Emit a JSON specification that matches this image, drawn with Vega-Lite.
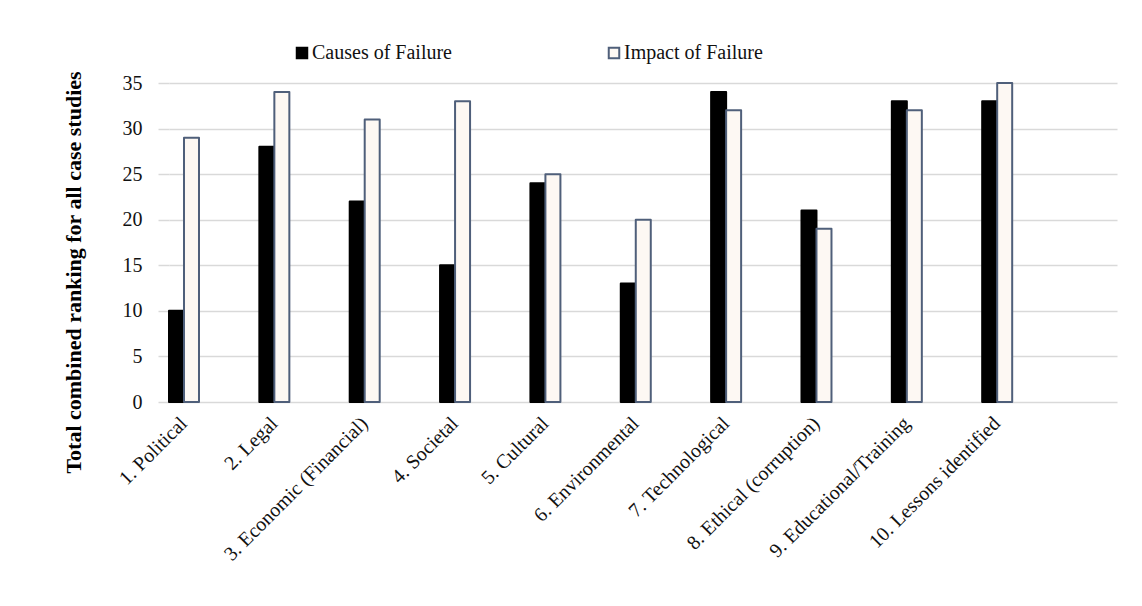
{
  "$schema": "https://vega.github.io/schema/vega-lite/v6.json",
  "width": 948,
  "height": 319,
  "autosize": {"type": "none"},
  "padding": {"left": 169, "top": 83, "right": 25, "bottom": 204},
  "background": "#ffffff",
  "config": {
    "view": {"stroke": null},
    "font": "Liberation Serif"
  },
  "data": {
    "values": [
      {"category": "1. Political", "series": "Causes of Failure", "value": 10},
      {"category": "1. Political", "series": "Impact of Failure", "value": 29},
      {"category": "2. Legal", "series": "Causes of Failure", "value": 28},
      {"category": "2. Legal", "series": "Impact of Failure", "value": 34},
      {"category": "3. Economic (Financial)", "series": "Causes of Failure", "value": 22},
      {"category": "3. Economic (Financial)", "series": "Impact of Failure", "value": 31},
      {"category": "4. Societal", "series": "Causes of Failure", "value": 15},
      {"category": "4. Societal", "series": "Impact of Failure", "value": 33},
      {"category": "5. Cultural", "series": "Causes of Failure", "value": 24},
      {"category": "5. Cultural", "series": "Impact of Failure", "value": 25},
      {"category": "6. Environmental", "series": "Causes of Failure", "value": 13},
      {"category": "6. Environmental", "series": "Impact of Failure", "value": 20},
      {"category": "7. Technological", "series": "Causes of Failure", "value": 34},
      {"category": "7. Technological", "series": "Impact of Failure", "value": 32},
      {"category": "8. Ethical (corruption)", "series": "Causes of Failure", "value": 21},
      {"category": "8. Ethical (corruption)", "series": "Impact of Failure", "value": 19},
      {"category": "9. Educational/Training", "series": "Causes of Failure", "value": 33},
      {"category": "9. Educational/Training", "series": "Impact of Failure", "value": 32},
      {"category": "10. Lessons identified", "series": "Causes of Failure", "value": 33},
      {"category": "10. Lessons identified", "series": "Impact of Failure", "value": 35}
    ]
  },
  "mark": {"type": "bar", "strokeWidth": 2, "strokeJoin": "round"},
  "encoding": {
    "x": {
      "field": "category",
      "type": "nominal",
      "sort": null,
      "scale": {"paddingInner": 0.668, "paddingOuter": 0.58, "align": 0},
      "axis": {
        "title": null,
        "domain": false,
        "ticks": false,
        "labelAngle": -45,
        "labelAlign": "right",
        "labelBaseline": "middle",
        "labelPadding": 18,
        "labelFont": "Liberation Serif",
        "labelFontSize": 20,
        "labelColor": "#111111",
        "labelLimit": 400
      }
    },
    "xOffset": {"field": "series", "type": "nominal", "scale": {"paddingInner": 0}},
    "y": {
      "field": "value",
      "type": "quantitative",
      "scale": {"domain": [0, 35]},
      "axis": {
        "title": "Total combined ranking for all case studies",
        "values": [0, 5, 10, 15, 20, 25, 30, 35],
        "domain": false,
        "ticks": true,
        "tickSize": 11,
        "tickColor": "#d9d9d9",
        "tickWidth": 1.5,
        "grid": true,
        "gridColor": "#d9d9d9",
        "gridWidth": 1.5,
        "labelPadding": 16,
        "labelFont": "Liberation Serif",
        "labelFontSize": 20,
        "labelColor": "#111111",
        "titleFont": "Liberation Serif",
        "titleFontSize": 22,
        "titleFontWeight": "bold",
        "titleColor": "#000000",
        "titleAngle": -90,
        "titleAlign": "center",
        "titleBaseline": "middle",
        "titleX": -96,
        "titleY": 189
      }
    },
    "fill": {
      "field": "series",
      "type": "nominal",
      "scale": {"domain": ["Causes of Failure", "Impact of Failure"], "range": ["#000000", "#fdf8f3"]},
      "legend": {
        "title": null,
        "orient": "none",
        "direction": "horizontal",
        "legendX": 123,
        "legendY": -40,
        "padding": 0,
        "columnPadding": 152,
        "symbolType": "square",
        "symbolSize": 110,
        "symbolStrokeWidth": 2,
        "labelOffset": 0,
        "labelFont": "Liberation Serif",
        "labelFontSize": 20,
        "labelColor": "#111111",
        "labelLimit": 300
      }
    },
    "stroke": {
      "field": "series",
      "type": "nominal",
      "scale": {"domain": ["Causes of Failure", "Impact of Failure"], "range": ["#000000", "#4f5f7a"]},
      "legend": {
        "title": null,
        "orient": "none",
        "direction": "horizontal",
        "legendX": 123,
        "legendY": -40,
        "padding": 0,
        "columnPadding": 152,
        "symbolType": "square",
        "symbolSize": 110,
        "symbolStrokeWidth": 2,
        "labelOffset": 0,
        "labelFont": "Liberation Serif",
        "labelFontSize": 20,
        "labelColor": "#111111",
        "labelLimit": 300
      }
    }
  }
}
